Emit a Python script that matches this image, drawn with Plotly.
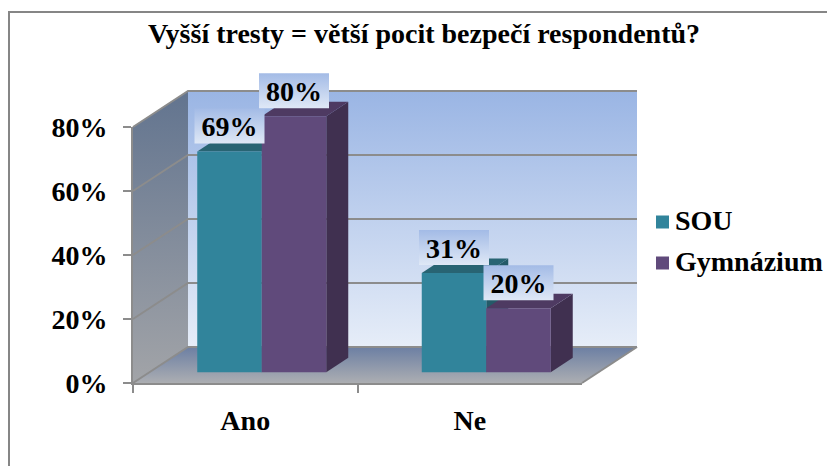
import plotly.graph_objects as go

categories = ["Ano", "Ne"]
series_names = ["SOU", "Gymnázium"]
sou_values = [69, 31]
gym_values = [80, 20]
axis_ticks = [0, 20, 40, 60, 80]
title_text = "Vyšší tresty = větší pocit bezpečí respondentů?"

# the page adds an 8px body margin, so the figure fills the rest of the window
PAGE = 8
W, H = 835 - PAGE, 466 - PAGE
AX_L, AX_R, AX_T, AX_B = 133 - PAGE, 582 - PAGE, 127 - PAGE, 383 - PAGE
PX_CAT = (AX_R - AX_L) / 2
PX_PCT = (AX_B - AX_T) / 80
DEPTH_X, DEPTH_Y = 55, 36
FONT = "Liberation Serif"
EDGE = "#8c8c8c"


def ux(px):
    return (px - PAGE - AX_L) / PX_CAT


def uy(px):
    return (AX_B - (px - PAGE)) / PX_PCT


def proj(x, v, d):
    return x + DEPTH_X * d / PX_CAT, v + DEPTH_Y * d / PX_PCT


def poly(points, **kw):
    pts = [proj(*p) for p in points]
    pts.append(pts[0])
    return go.Scatter(x=[p[0] for p in pts], y=[p[1] for p in pts], mode="lines",
                      fill="toself", showlegend=False, hoverinfo="skip", **kw)


def grad(c_top, c_bottom):
    return dict(type="vertical", colorscale=[[0, c_bottom], [1, c_top]])


fig = go.Figure()
NOLINE = dict(width=0)
TOP = axis_ticks[-1]

# walls and floor
fig.add_trace(poly([(0, 0, 1), (2, 0, 1), (2, TOP, 1), (0, TOP, 1)],
                   line=NOLINE, fillgradient=grad("#9ab5e4", "#e6edf8"), xaxis="x", yaxis="y"))
fig.add_trace(poly([(0, 0, 0), (0, 0, 1), (0, TOP, 1), (0, TOP, 0)],
                   line=NOLINE, fillgradient=grad("#62748f", "#a2a4a8"), xaxis="x", yaxis="y"))
fig.add_trace(poly([(0, 0, 0), (2, 0, 0), (2, 0, 1), (0, 0, 1)],
                   line=NOLINE, fillgradient=grad("#6c7fa3", "#acaeb2"), xaxis="x", yaxis="y"))

# gridlines across the left wall and back wall
gx, gy = [], []
for t in axis_ticks:
    for p in [(0, t, 0), (0, t, 1), (2, t, 1)]:
        a, b = proj(*p)
        gx.append(a)
        gy.append(b)
    gx.append(None)
    gy.append(None)
for p in [(2, 0, 0), (2, 0, 1)]:
    a, b = proj(*p)
    gx.append(a)
    gy.append(b)
fig.add_trace(go.Scatter(x=gx, y=gy, mode="lines", line=dict(color=EDGE, width=2),
                         showlegend=False, hoverinfo="skip", xaxis="x", yaxis="y"))

# real axes
fig.add_trace(go.Scatter(x=categories, y=sou_values, mode="markers", marker=dict(opacity=0),
                         showlegend=False, hoverinfo="skip", xaxis="x2", yaxis="y2"))

# bars
D0, D1 = 0.3, 0.7
BAR = 64.5 / PX_CAT
series = [(sou_values, -BAR / 2, "#31849b", "#286473", "#245a68"),
          (gym_values, BAR / 2, "#604a7b", "#4e3a62", "#403050")]
for vals, shift, front, top, side in series:
    for i, v in enumerate(vals):
        c = i + 0.5 + shift
        l, r = c - BAR / 2, c + BAR / 2
        fig.add_trace(poly([(r, 0, D0), (r, 0, D1), (r, v, D1), (r, v, D0)],
                           line=NOLINE, fillcolor=side, xaxis="x3", yaxis="y3"))
        fig.add_trace(poly([(l, v, D0), (r, v, D0), (r, v, D1), (l, v, D1)],
                           line=NOLINE, fillcolor=top, xaxis="x3", yaxis="y3"))

for name, (vals, shift, front, top, side) in zip(series_names, series):
    fig.add_trace(go.Bar(
        x=[proj(i + 0.5 + shift, 0, D0)[0] for i in range(len(vals))],
        y=vals, base=proj(0, 0, D0)[1], width=BAR, name=name,
        marker=dict(color=front, line=dict(width=0)),
        showlegend=False, xaxis="x4", yaxis="y4"))

# value labels
BOX_W, BOX_H, BOX_GAP = 70 / PX_CAT, 35 / PX_PCT, 8 / PX_PCT
TEXT_DROP = 3 / PX_PCT
for vals, shift, *_ in series:
    for i, v in enumerate(vals):
        cx, top_y = proj(i + 0.5 + shift, v, D0)
        bx = [cx - BOX_W / 2, cx + BOX_W / 2, cx + BOX_W / 2, cx - BOX_W / 2, cx - BOX_W / 2]
        b0 = top_y + BOX_GAP
        by = [b0, b0, b0 + BOX_H, b0 + BOX_H, b0]
        fig.add_trace(go.Scatter(x=bx, y=by, mode="lines", fill="toself", line=NOLINE,
                                 fillgradient=grad("#a3bbe6", "#dfe8f6"),
                                 showlegend=False, hoverinfo="skip", xaxis="x4", yaxis="y4"))
        fig.add_trace(go.Scatter(x=[cx], y=[b0 + BOX_H / 2 - TEXT_DROP], mode="text", text=[f"{v}%"],
                                 textposition="middle center",
                                 textfont=dict(family=FONT, size=28, color="black", weight="bold"),
                                 showlegend=False, hoverinfo="skip", xaxis="x4", yaxis="y4"))

# legend
for name, s, py, ty in zip(series_names, series, [222, 263], [223, 264]):
    fig.add_trace(go.Scatter(x=[ux(662.5)], y=[uy(py)], mode="markers",
                             marker=dict(symbol="square", size=13, color=s[2], line=dict(width=0)),
                             name=name, showlegend=False, hoverinfo="skip", xaxis="x4", yaxis="y4"))
    fig.add_trace(go.Scatter(x=[ux(675)], y=[uy(ty)], mode="text", text=[name],
                             textposition="middle right",
                             textfont=dict(family=FONT, size=28, color="black", weight="bold"),
                             showlegend=False, hoverinfo="skip", xaxis="x4", yaxis="y4"))

full_x = dict(domain=[0, 1], range=[ux(PAGE), ux(PAGE + W)], visible=False, fixedrange=True, automargin=False)
full_y = dict(domain=[0, 1], range=[uy(PAGE + H), uy(PAGE)], visible=False, fixedrange=True, automargin=False)
tick_font = dict(family=FONT, size=28, color="black", weight="bold")

fig.update_layout(
    width=W, height=H, margin=dict(l=0, r=0, t=0, b=0),
    paper_bgcolor="white", plot_bgcolor="rgba(0,0,0,0)", showlegend=False,
    barmode="overlay",
    title=dict(text=title_text, x=(424 - PAGE) / W, xanchor="center", y=1 - (33 - PAGE) / H, yanchor="middle",
               font=dict(family=FONT, size=28, color="black", weight="bold")),
    xaxis=dict(full_x, anchor="y"), yaxis=dict(full_y, anchor="x"),
    xaxis3=dict(full_x, anchor="y3"), yaxis3=dict(full_y, anchor="x3"),
    xaxis4=dict(full_x, anchor="y4"), yaxis4=dict(full_y, anchor="x4"),
    xaxis2=dict(domain=[AX_L / W, AX_R / W], anchor="y2", type="category", automargin=False,
                categoryorder="array", categoryarray=categories, range=[-0.5, 1.5],
                tickson="boundaries", ticks="outside", ticklen=8, tickwidth=2, tickcolor=EDGE,
                showgrid=False, zeroline=False, showline=True, linecolor=EDGE, linewidth=2,
                tickfont=tick_font, ticklabelstandoff=11, fixedrange=True),
    yaxis2=dict(domain=[1 - AX_B / H, 1 - AX_T / H], anchor="x2", range=[0, TOP], automargin=False,
                tickmode="array", tickvals=axis_ticks, ticktext=[f"{t}%" for t in axis_ticks],
                ticks="outside", ticklen=8, tickwidth=2, tickcolor=EDGE,
                showgrid=False, zeroline=False, showline=True, linecolor=EDGE, linewidth=2,
                tickfont=tick_font, ticklabelstandoff=10, fixedrange=True),
    shapes=[
        dict(type="line", xref="paper", yref="paper", x0=1 / W, x1=1 / W, y0=0, y1=1 - 4 / H,
             line=dict(color="#868686", width=2)),
        dict(type="line", xref="paper", yref="paper", x0=0, x1=1, y0=1 - 4 / H, y1=1 - 4 / H,
             line=dict(color="#868686", width=2)),
    ],
)

fig.write_html("out.html")
